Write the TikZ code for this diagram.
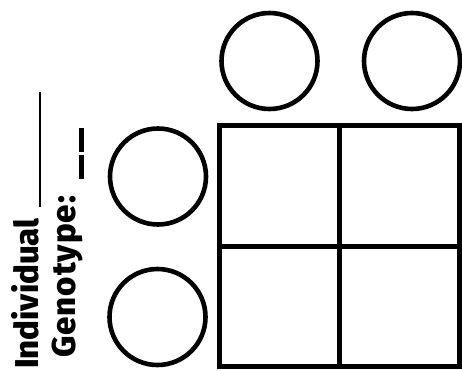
\documentclass[tikz,border=0pt]{standalone}
\usepackage{fontspec}
\newfontfamily\labfont{Fira Sans ExtraBold}
\begin{document}
\begin{tikzpicture}[x=1pt,y=-1pt,
  allele/.style={circle,draw,line width=4.6pt,minimum size=96pt,inner sep=0pt},
  cell/.style={rectangle,draw,line width=5pt,minimum width=120.5pt,minimum height=120.5pt,inner sep=0pt},
  lab/.style={rotate=90,anchor=base west,inner sep=0pt,font=\labfont\fontsize{33}{33}\selectfont}]
\useasboundingbox (0,0) rectangle (462,370);
% top alleles
\node[allele] (t1) at (269.5,61) {};
\node[allele] (t2) at (412,61) {};
% left alleles
\node[allele] (l1) at (158,176.5) {};
\node[allele] (l2) at (157.5,317) {};
% Punnett square cells
\node[cell] (c11) at (279.5,185.75) {};
\node[cell] (c12) at (399.5,185.75) {};
\node[cell] (c21) at (279.5,306.25) {};
\node[cell] (c22) at (399.5,306.25) {};
% labels
\node[lab] (ind) at (38,369) {Individual\hspace{11pt}\rule[-3.2pt]{115pt}{2.6pt}};
\node[lab] (gen) at (75,358) {{\addfontfeature{LetterSpace=3}Genotype:}\hspace{17pt}\rule[-8.5pt]{24pt}{5pt}\hspace{3pt}\rule[-8.5pt]{24pt}{5pt}};
\end{tikzpicture}
\end{document}
